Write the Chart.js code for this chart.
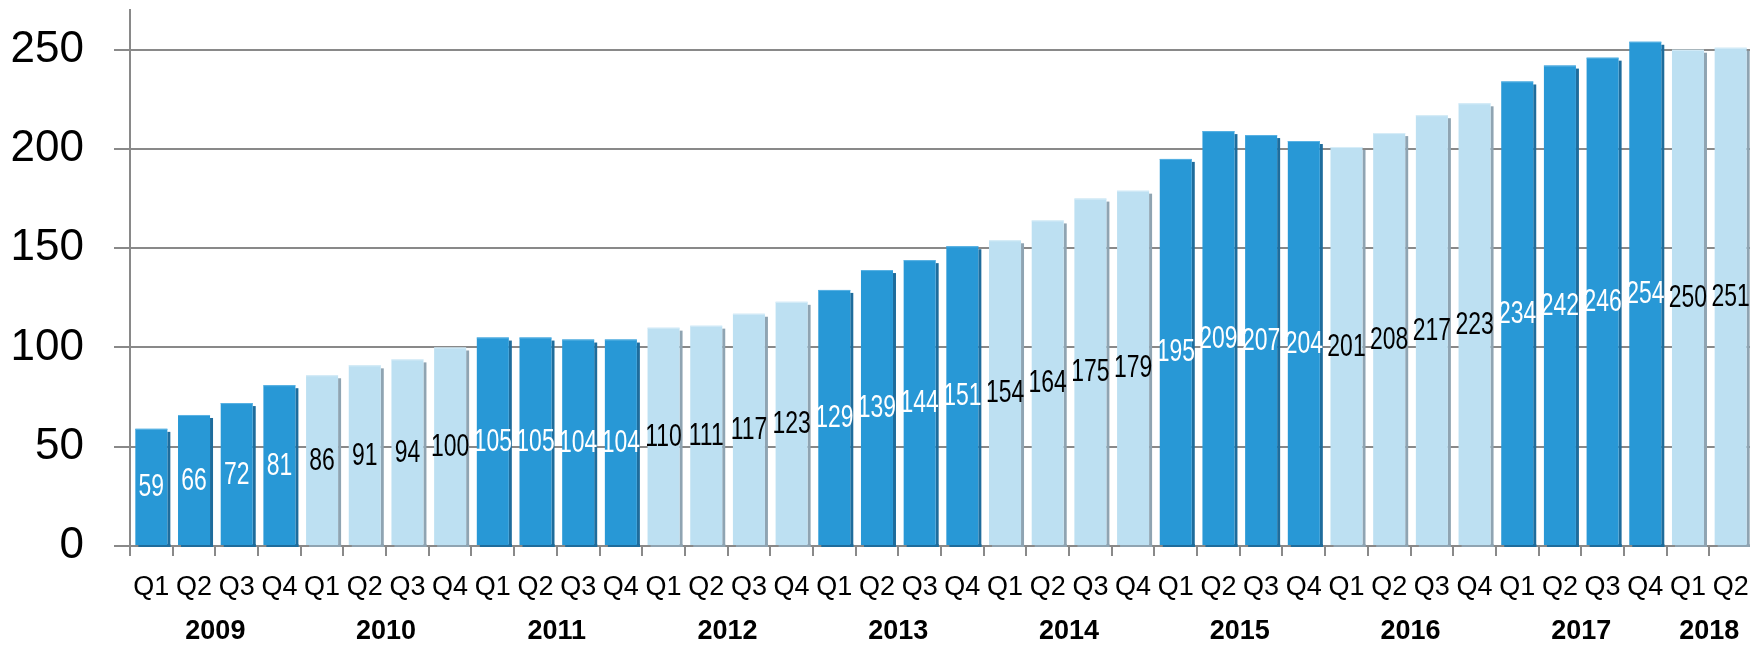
<!DOCTYPE html>
<html>
<head>
<meta charset="utf-8">
<script src="https://cdn.jsdelivr.net/npm/chart.js@4.4.0/dist/chart.umd.min.js"></script>
<style>
  html, body { margin: 0; padding: 0; background: #fff; overflow: hidden; }
  #wrap { width: 1750px; height: 645px; overflow: hidden; }
  canvas { display: block; }
</style>
</head>
<body>
<div id="wrap"><canvas id="chart" width="1752" height="645"></canvas></div>
<script>
// Quarterly series, 2009 Q1 .. 2018 Q2
const quarters = ['Q1','Q2','Q3','Q4','Q1','Q2','Q3','Q4','Q1','Q2','Q3','Q4',
                  'Q1','Q2','Q3','Q4','Q1','Q2','Q3','Q4','Q1','Q2','Q3','Q4',
                  'Q1','Q2','Q3','Q4','Q1','Q2','Q3','Q4','Q1','Q2','Q3','Q4',
                  'Q1','Q2'];
const years = ['2009','2010','2011','2012','2013','2014','2015','2016','2017','2018'];
const quartersPerYear = [4,4,4,4,4,4,4,4,4,2];
const values = [59,66,72,81, 86,91,94,100, 105,105,104,104, 110,111,117,123,
                129,139,144,151, 154,164,175,179, 195,209,207,204, 201,208,217,223,
                234,242,246,254, 250,251];
const yTicks = [0,50,100,150,200,250];

// Alternate shade per year
const DARK = '#2898d6', LIGHT = '#bde0f2';
const DARK_SHADOW = '#1e6c9c', LIGHT_SHADOW = '#8fa4b2';
const yearIndex = [];
quartersPerYear.forEach((n, yi) => { for (let k = 0; k < n; k++) yearIndex.push(yi); });
const isDark = yearIndex.map(yi => yi % 2 === 0);

const GRID = '#898989';
const SANS = '"Liberation Sans", Arial, sans-serif';

// Offset side shade behind each bar, then value captions on top
const barShadow = {
  id: 'barShadow',
  beforeDatasetsDraw(chart) {
    const ctx = chart.ctx;
    const meta = chart.getDatasetMeta(0);
    ctx.save();
    meta.data.forEach((el, i) => {
      const p = el.getProps(['x','y','base','width'], true);
      ctx.fillStyle = isDark[i] ? DARK_SHADOW : LIGHT_SHADOW;
      const right = p.x + p.width / 2;
      ctx.fillRect(right, p.y + 3, 3, p.base - p.y - 1);
      ctx.fillRect(p.x - p.width / 2 + 3, p.base - 1, p.width, 3);
    });
    ctx.restore();
  },
  afterDatasetsDraw(chart) {
    const ctx = chart.ctx;
    const meta = chart.getDatasetMeta(0);
    meta.data.forEach((el, i) => {
      const p = el.getProps(['x','y','base','width'], true);
      ctx.save();
      // light rim along the top edge
      ctx.fillStyle = isDark[i] ? '#5bb3e4' : '#d8edf8';
      ctx.fillRect(p.x - p.width / 2, p.y, p.width, 1);
      // condensed caption: regular face squeezed horizontally
      ctx.translate(p.x, (p.y + p.base) / 2 + 1);
      ctx.scale(0.74, 1);
      ctx.font = '31px ' + SANS;
      ctx.textAlign = 'center';
      ctx.textBaseline = 'middle';
      ctx.fillStyle = isDark[i] ? '#ffffff' : '#000000';
      ctx.fillText(String(values[i]), 0, 0);
      ctx.restore();
    });
  }
};

// Year captions centred under each group of quarters
const yearLabels = {
  id: 'yearLabels',
  afterDraw(chart) {
    const ctx = chart.ctx;
    const xs = chart.scales.x;
    ctx.save();
    ctx.font = 'bold 27px ' + SANS;
    ctx.fillStyle = '#000';
    ctx.textAlign = 'center';
    ctx.textBaseline = 'middle';
    let start = 0;
    years.forEach((yr, yi) => {
      const end = start + quartersPerYear[yi] - 1;
      const cx = (xs.getPixelForValue(start) + xs.getPixelForValue(end)) / 2;
      ctx.fillText(yr, cx, 632);
      start = end + 1;
    });
    ctx.restore();
  }
};

new Chart(document.getElementById('chart'), {
  type: 'bar',
  data: {
    labels: quarters,
    datasets: [{
      data: values,
      backgroundColor: isDark.map(d => d ? DARK : LIGHT),
      borderWidth: 0,
      barPercentage: 0.75,
      categoryPercentage: 1.0
    }]
  },
  options: {
    responsive: false,
    animation: false,
    layout: { padding: { top: 10, right: 0, left: 0, bottom: 0 } },
    plugins: { legend: { display: false }, tooltip: { enabled: false } },
    scales: {
      x: {
        offset: true,
        grid: {
          offset: true,
          drawOnChartArea: false,
          drawTicks: true,
          tickLength: 10,
          color: GRID,
          lineWidth: 2
        },
        border: { display: true, color: GRID, width: 2 },
        ticks: {
          color: '#000',
          font: { family: SANS, size: 27 },
          padding: 15,
          maxRotation: 0,
          autoSkip: false
        },
        afterFit(scale) {
          scale.height = 99;
          scale.paddingLeft = 0;
          scale.paddingRight = 0;
        }
      },
      y: {
        min: 0,
        max: 270,
        grid: { color: GRID, lineWidth: 2, tickLength: 16, drawTicks: true },
        border: { display: true, color: GRID, width: 2 },
        ticks: {
          stepSize: 50,
          color: '#000',
          font: { family: SANS, size: 44 },
          padding: 30
        },
        afterBuildTicks(scale) {
          scale.ticks = yTicks.map(v => ({ value: v }));
        },
        afterFit(scale) {
          scale.width = 130;
          scale.paddingTop = 0;
          scale.paddingBottom = 0;
        }
      }
    }
  },
  plugins: [barShadow, yearLabels]
});
</script>
</body>
</html>
